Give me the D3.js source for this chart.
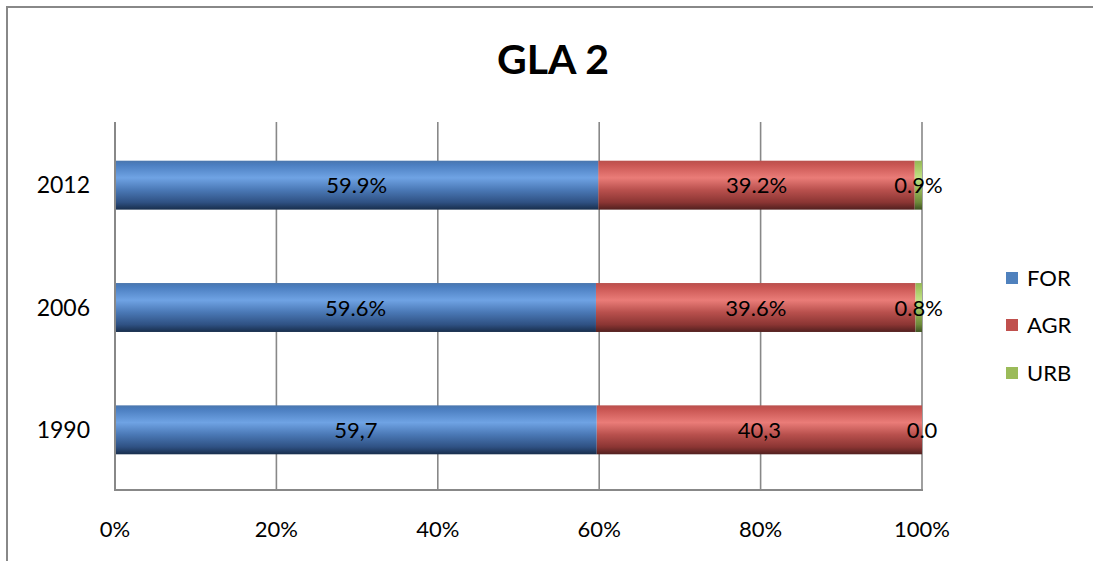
<!DOCTYPE html>
<html><head><meta charset="utf-8">
<script src="https://cdn.jsdelivr.net/npm/d3@7"></script>
<style>
html,body{margin:0;padding:0;background:#fff;}
svg{display:block;font-family:Lato,"Open Sans",sans-serif;}
</style></head>
<body>
<svg id="chart" width="1093" height="561"></svg>
<script>
const title = "GLA 2";
const years = ["2012", "2006", "1990"];
const seriesNames = ["FOR", "AGR", "URB"];
const forValues = [59.9, 59.6, 59.7];
const agrValues = [39.2, 39.6, 40.3];
const urbValues = [0.9, 0.8, 0.0];
const forLabels = ["59.9%", "59.6%", "59,7"];
const agrLabels = ["39.2%", "39.6%", "40,3"];
const urbLabels = ["0.9%", "0.8%", "0.0"];
const xTicks = [0, 0.2, 0.4, 0.6, 0.8, 1.0];
const colors = {FOR:"#4f81bd", AGR:"#c0504d", URB:"#9bbb59"};

const svg = d3.select("#chart");

// outer frame
svg.append("path").attr("d","M7,561 L7,7 L1093,7").attr("fill","none").attr("stroke","#888").attr("stroke-width",2);

// title
svg.append("text").attr("x",553).attr("y",74).attr("text-anchor","middle")
  .attr("font-size",41).attr("font-weight","bold").attr("fill","#000").text(title);

const x = d3.scaleLinear().domain([0,1]).range([115,922]);
const y = d3.scaleBand().domain(years).range([124,491]).paddingInner(0.6).paddingOuter(0.3);

// gradients
const defs = svg.append("defs");
const grads = {
  FOR:[["0%","#4a76ad"],["8%","#4b7ec0"],["35%","#6fa3e4"],["60%","#4a78b5"],["85%","#2f5183"],["100%","#182e4c"]],
  AGR:[["0%","#b9504d"],["8%","#c85552"],["35%","#ea7c78"],["60%","#b8504d"],["85%","#8b3533"],["100%","#52201f"]],
  URB:[["0%","#93b35a"],["8%","#9fc25d"],["35%","#c2e385"],["60%","#95b556"],["85%","#6d8a3a"],["100%","#3f5222"]]
};
Object.entries(grads).forEach(([k,stops])=>{
  const g = defs.append("linearGradient").attr("id","g"+k).attr("x1",0).attr("y1",0).attr("x2",0).attr("y2",1);
  stops.forEach(s=>g.append("stop").attr("offset",s[0]).attr("stop-color",s[1]));
});

// gridlines
svg.append("g").selectAll("line").data(xTicks).join("line")
  .attr("x1",d=>x(d)).attr("x2",d=>x(d)).attr("y1",122).attr("y2",490)
  .attr("stroke","#888").attr("stroke-width",1.6);

// stack
const rows = years.map((yr,i)=>({year:yr, FOR:forValues[i], AGR:agrValues[i], URB:urbValues[i]}));
const labels = {FOR:forLabels, AGR:agrLabels, URB:urbLabels};
const stack = d3.stack().keys(seriesNames).offset(d3.stackOffsetExpand)(rows);

const gBars = svg.append("g");
stack.forEach(layer=>{
  const key = layer.key;
  gBars.selectAll(null).data(layer).join("rect")
    .attr("x",d=>x(d[0])).attr("width",d=>Math.max(0,x(d[1])-x(d[0])))
    .attr("y",d=>y(d.data.year)).attr("height",y.bandwidth())
    .attr("fill","url(#g"+key+")");
});

// axes lines
svg.append("line").attr("x1",x(0)).attr("x2",x(0)).attr("y1",122).attr("y2",491).attr("stroke","#888").attr("stroke-width",2);
svg.append("line").attr("x1",x(0)-1).attr("x2",x(1)+1).attr("y1",490).attr("y2",490).attr("stroke","#888").attr("stroke-width",2);

// data labels
stack.forEach(layer=>{
  const key = layer.key;
  svg.append("g").selectAll("text").data(layer).join("text")
    .attr("x",d=>(x(d[0])+x(d[1]))/2)
    .attr("y",d=>y(d.data.year)+y.bandwidth()/2+8)
    .attr("text-anchor","middle").attr("font-size",22).attr("fill","#000")
    .text((d,i)=>labels[key][i]);
});

// x tick labels
svg.append("g").selectAll("text").data(xTicks).join("text")
  .attr("x",d=>x(d)).attr("y",537).attr("text-anchor","middle").attr("font-size",22).attr("fill","#000")
  .text(d=>d3.format(".0%")(d));

// y labels
svg.append("g").selectAll("text").data(years).join("text")
  .attr("x",90).attr("y",d=>y(d)+y.bandwidth()/2+8).attr("text-anchor","end")
  .attr("font-size",23).attr("fill","#000").text(d=>d);

// legend
const leg = svg.append("g");
const legY = [278, 325, 373];
seriesNames.forEach((n,i)=>{
  leg.append("rect").attr("x",1006).attr("y",legY[i]-6).attr("width",12).attr("height",12).attr("fill",colors[n]);
  leg.append("text").attr("x",1027).attr("y",legY[i]+8).attr("font-size",22).attr("fill","#000").text(n);
});
</script>
</body></html>
